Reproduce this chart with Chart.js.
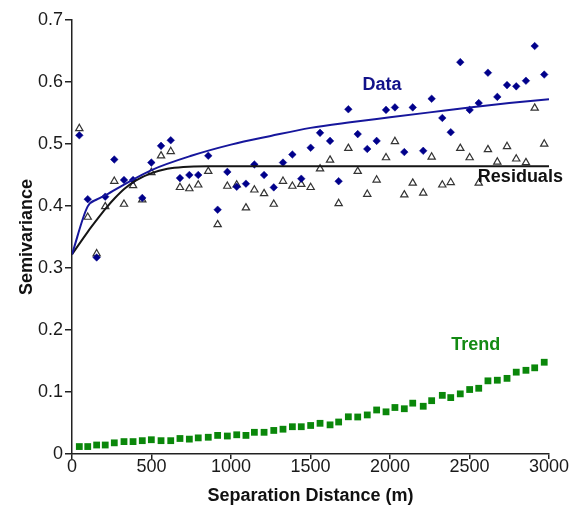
<!DOCTYPE html>
<html>
<head>
<meta charset="utf-8">
<script src="https://cdn.jsdelivr.net/npm/chart.js@4"></script>
<style>
  html, body { margin: 0; padding: 0; background: #fff; }
  #wrap { width: 571px; height: 516px; }
</style>
</head>
<body>
<div id="wrap"><canvas id="c" width="571" height="516"></canvas></div>
<script>
// lag distances (m), shared by all three point series
const lagDist = [46, 99, 155, 209, 266, 327, 384, 442, 499, 560, 621, 679, 738, 794, 857, 916, 977, 1036, 1094, 1147,
  1208, 1269, 1327, 1386, 1442, 1501, 1560, 1623, 1677, 1738, 1797, 1857, 1916, 1975, 2031, 2090, 2143, 2209, 2262, 2329,
  2382, 2442, 2501, 2558, 2616, 2675, 2736, 2794, 2855, 2910, 2970];

// experimental semivariance of the raw data (diamonds)
const dataVals = [0.514, 0.411, 0.317, 0.415, 0.475, 0.442, 0.442, 0.413, 0.470, 0.497, 0.506, 0.445, 0.450, 0.450, 0.481,
  0.394, 0.455, 0.431, 0.436, 0.467, 0.450, 0.430, 0.470, 0.483, 0.444, 0.494, 0.518, 0.505, 0.440, 0.556, 0.516, 0.492,
  0.505, 0.555, 0.559, 0.487, 0.559, 0.489, 0.573, 0.542, 0.519, 0.632, 0.555, 0.566, 0.615, 0.576, 0.595, 0.593, 0.602,
  0.658, 0.612];

// semivariance of the residuals (triangles)
const residVals = [0.525, 0.382, 0.323, 0.399, 0.440, 0.403, 0.433, 0.410, 0.454, 0.481, 0.488, 0.430, 0.428, 0.434, 0.456,
  0.370, 0.432, 0.434, 0.397, 0.426, 0.420, 0.403, 0.440, 0.432, 0.435, 0.430, 0.460, 0.474, 0.404, 0.493, 0.456, 0.419,
  0.442, 0.478, 0.504, 0.418, 0.437, 0.421, 0.479, 0.434, 0.438, 0.493, 0.478, 0.437, 0.491, 0.471, 0.496, 0.476, 0.470,
  0.558, 0.500];

// semivariance of the trend (squares)
const trendVals = [0.012, 0.012, 0.0145, 0.0145, 0.018, 0.020, 0.020, 0.0215, 0.023, 0.0215, 0.0215, 0.025, 0.024, 0.026,
  0.027, 0.030, 0.029, 0.031, 0.030, 0.035, 0.035, 0.038, 0.040, 0.044, 0.044, 0.046, 0.0495, 0.047, 0.0516, 0.060, 0.0597,
  0.063, 0.071, 0.068, 0.075, 0.073, 0.082, 0.077, 0.086, 0.0946, 0.091, 0.097, 0.104, 0.106, 0.118, 0.119, 0.122, 0.132,
  0.135, 0.139, 0.148];

// fitted models
const dataModelDist = [0, 98, 160, 215, 330, 500, 750, 1000, 1250, 1500, 1750, 2000, 2250, 2500, 2750, 3000];
const dataModelVals = [0.322, 0.399, 0.411, 0.418, 0.435, 0.458, 0.481, 0.499, 0.513, 0.526, 0.535, 0.543, 0.551, 0.559, 0.566, 0.572];
const residModelDist = [0, 98, 157, 215, 270, 330, 400, 500, 600, 700, 850, 3000];
const residModelVals = [0.322, 0.358, 0.378, 0.397, 0.413, 0.428, 0.441, 0.453, 0.460, 0.463, 0.464, 0.464];

const xTicks = [0, 500, 1000, 1500, 2000, 2500, 3000];
const yTicks = [0, 0.1, 0.2, 0.3, 0.4, 0.5, 0.6, 0.7];

const pts = (xs, ys) => xs.map((x, i) => ({ x, y: ys[i] }));

const FONT = '"Liberation Sans", Arial, Helvetica, sans-serif';

// series captions placed in data coordinates
const captions = [
  { text: 'Data', x: 1950, y: 0.595, color: '#12128a' },
  { text: 'Residuals', x: 2820, y: 0.446, color: '#111' },
  { text: 'Trend', x: 2540, y: 0.175, color: '#138a13' },
];

const captionPlugin = {
  id: 'captions',
  afterDatasetsDraw(chart) {
    const { ctx, scales } = chart;
    ctx.save();
    ctx.font = `bold 18px ${FONT}`;
    ctx.textAlign = 'center';
    ctx.textBaseline = 'middle';
    captions.forEach(c => {
      ctx.fillStyle = c.color;
      ctx.fillText(c.text, scales.x.getPixelForValue(c.x), scales.y.getPixelForValue(c.y));
    });
    ctx.restore();
  },
};

new Chart(document.getElementById('c').getContext('2d'), {
  type: 'scatter',
  data: {
    datasets: [
      {
        label: 'Data model',
        data: pts(dataModelDist, dataModelVals),
        showLine: true,
        borderColor: '#16169c',
        borderWidth: 2,
        pointRadius: 0,
        cubicInterpolationMode: 'monotone',
      },
      {
        label: 'Residuals model',
        data: pts(residModelDist, residModelVals),
        showLine: true,
        borderColor: '#151515',
        borderWidth: 2,
        pointRadius: 0,
        cubicInterpolationMode: 'monotone',
      },
      {
        label: 'Data',
        data: pts(lagDist, dataVals),
        pointStyle: 'rectRot',
        pointRadius: 3.8,
        backgroundColor: '#00008b',
        borderColor: '#00008b',
        borderWidth: 0.5,
      },
      {
        label: 'Residuals',
        data: pts(lagDist, residVals),
        pointStyle: 'triangle',
        pointRadius: 4.2,
        backgroundColor: '#fff',
        borderColor: '#333',
        borderWidth: 1.2,
      },
      {
        label: 'Trend',
        data: pts(lagDist, trendVals),
        pointStyle: 'rect',
        pointRadius: 4.8,
        backgroundColor: '#0a870a',
        borderColor: '#0a870a',
        borderWidth: 0,
      },
    ],
  },
  options: {
    responsive: false,
    animation: false,
    layout: { padding: { left: 16, top: 20, right: 22, bottom: 9 } },
    plugins: {
      legend: { display: false },
      tooltip: { enabled: false },
    },
    scales: {
      x: {
        type: 'linear',
        min: 0,
        max: 3000,
        afterBuildTicks: s => { s.ticks = xTicks.map(v => ({ value: v })); },
        afterFit: s => { s.height = 53; },
        border: { display: true, color: '#222', width: 1.5 },
        grid: { drawOnChartArea: false, drawTicks: true, tickLength: 5, color: '#222', lineWidth: 1.5 },
        ticks: {
          color: '#1a1a1a',
          font: { family: FONT, size: 18 },
          padding: -3,
          maxRotation: 0,
          callback: v => String(v),
        },
        title: {
          display: true,
          text: 'Separation Distance (m)',
          color: '#111',
          font: { family: FONT, size: 18, weight: 'bold' },
          padding: { top: 0, bottom: 0 },
        },
      },
      y: {
        type: 'linear',
        min: 0,
        max: 0.7,
        afterBuildTicks: s => { s.ticks = yTicks.map(v => ({ value: v })); },
        afterFit: s => { s.width = 56; },
        border: { display: true, color: '#222', width: 1.5 },
        grid: { drawOnChartArea: false, drawTicks: true, tickLength: 7, color: '#222', lineWidth: 1.5 },
        ticks: {
          color: '#1a1a1a',
          font: { family: FONT, size: 18 },
          padding: 2,
          callback: v => (v === 0 ? '0' : v.toFixed(1)),
        },
        title: {
          display: true,
          text: 'Semivariance',
          color: '#111',
          font: { family: FONT, size: 18, weight: 'bold' },
          padding: { top: 0, bottom: 0 },
        },
      },
    },
  },
  plugins: [captionPlugin],
});
</script>
</body>
</html>
